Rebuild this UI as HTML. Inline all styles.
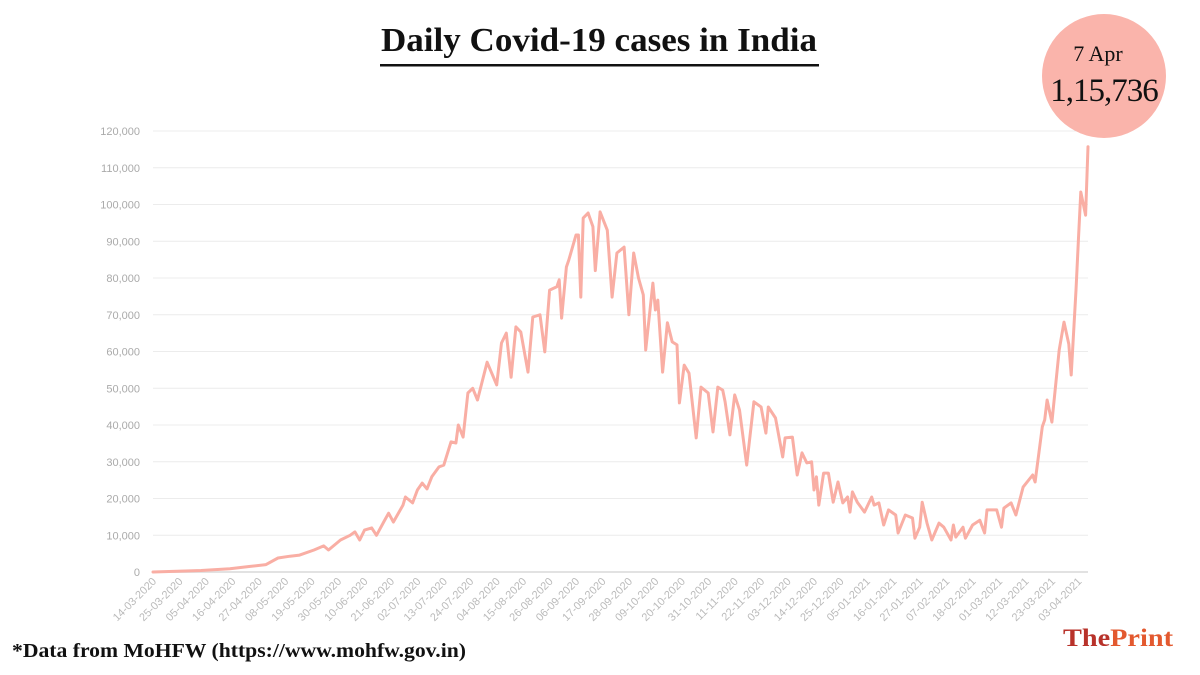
<!DOCTYPE html>
<html><head><meta charset="utf-8"><style>
html,body{margin:0;padding:0;background:#fff;width:1200px;height:675px;overflow:hidden}
svg{display:block}
</style></head><body>
<svg id="chart" width="1200" height="675" xmlns="http://www.w3.org/2000/svg">
<text x="381" y="51" textLength="436" lengthAdjust="spacingAndGlyphs" font-family="Liberation Serif, serif" font-weight="600" font-size="34" fill="#111">Daily Covid-19 cases in India</text>
<rect x="380" y="64" width="439" height="2.5" fill="#111"/>
<g id="grid"></g>
<g id="yaxis"></g>
<g id="xaxis"></g>
<path id="line" fill="none" stroke="#f9aea4" stroke-width="3" stroke-linejoin="round" stroke-linecap="round"/>
<circle cx="1104" cy="76" r="62" fill="#fab4ab"/>
<text x="1098" y="61" text-anchor="middle" font-family="Liberation Serif, serif" font-size="22" fill="#111">7 Apr</text>
<text x="1104" y="101" text-anchor="middle" font-family="Liberation Serif, serif" font-size="33" fill="#111" letter-spacing="-1">1,15,736</text>
<text x="12" y="657" textLength="454" lengthAdjust="spacingAndGlyphs" font-family="Liberation Serif, serif" font-size="20" font-weight="bold" fill="#111">*Data from MoHFW (https://www.mohfw.gov.in)</text>
<text x="1063" y="646" textLength="110" lengthAdjust="spacingAndGlyphs" font-family="Liberation Serif, serif" font-size="25" font-weight="bold" fill="#e3592f"><tspan fill="#b8322a">The</tspan>Print</text>
</svg>
<script>
const days=[0,20,32,40,47,52,57,61,67,71,73,78,82,84,86,88,91,93,96,98,100,104,105,108,110,112,114,116,119,121,124,126,127,129,131,133,135,139,143,145,147,149,151,153,156,158,161,163,165,168,169,170,172,173,176,177,178,179,181,183,184,186,189,191,193,196,198,200,202,204,205,208,209,210,212,214,216,218,219,221,223,226,228,231,233,235,237,238,240,242,244,247,250,253,255,256,259,262,263,266,268,270,272,274,275,276,277,279,281,283,285,287,289,290,291,293,296,299,300,302,304,306,309,310,313,316,317,319,320,322,324,327,329,332,333,334,337,338,341,344,346,347,351,353,354,357,359,362,366,367,370,371,372,374,377,379,381,382,384,385,386,388,389];
const cases=[0,400,900,1500,2000,3800,4300,4600,6000,7100,6000,8700,10000,10900,8700,11400,12000,10000,13600,16000,13600,18200,20400,18800,22300,24200,22600,25900,28600,29100,35400,35100,40000,36700,48700,50000,46800,57100,50900,62300,65000,53000,66700,65300,54400,69400,70000,59900,76700,77600,79500,69100,83000,84900,91700,91700,74800,96300,97700,94000,82000,98000,93000,74800,86800,88400,70000,86800,80000,75400,60400,78600,71300,74000,54400,67800,62600,61800,46000,56300,54100,36500,50300,48700,38100,50300,49500,46300,37300,48200,44100,29100,46300,44900,37800,44900,41900,31300,36500,36700,26400,32400,29700,30000,22300,25900,18200,26900,26900,19000,24500,18800,20400,16300,21800,19000,16300,20400,18200,18800,12800,16900,15500,10600,15500,14700,9200,12200,19000,13300,8700,13300,12200,8700,12800,9500,12200,9200,12800,14100,10600,16900,16900,12200,17400,18800,15500,23100,26400,24500,39500,41400,46800,40800,60400,68000,62000,53600,76700,90300,103400,97100,115736];
const yTicks=[0,10000,20000,30000,40000,50000,60000,70000,80000,90000,100000,110000,120000];
const tickStep=11;
const NS="http://www.w3.org/2000/svg";
const X0=153,X1=1088,DMAX=389,Y0=572,Y1=131,VMAX=120000;
const xs=d=>X0+(X1-X0)*d/DMAX;
const ys=v=>Y0-(Y0-Y1)*v/VMAX;
const fmt=n=>n.toLocaleString('en-US');
const grid=document.getElementById('grid'),yax=document.getElementById('yaxis'),xax=document.getElementById('xaxis');
yTicks.forEach(t=>{
  const l=document.createElementNS(NS,'line');
  
  
  l.setAttribute('x1',X0);l.setAttribute('x2',X1);l.setAttribute('y1',ys(t));l.setAttribute('y2',ys(t));
  l.setAttribute('stroke',t===0?'#e2e2e2':'#ececec');l.setAttribute('stroke-width',t===0?2:1);
  grid.appendChild(l);
  const tx=document.createElementNS(NS,'text');
  
  
  tx.setAttribute('x',140);tx.setAttribute('y',ys(t)+4);tx.setAttribute('text-anchor','end');
  tx.setAttribute('font-family','Liberation Sans, sans-serif');tx.setAttribute('font-size','11');tx.setAttribute('fill','#aaa');
  tx.textContent=fmt(t);yax.appendChild(tx);
});
const start=Date.UTC(2020,2,14);
for(let d=0;d<=DMAX-3;d+=tickStep){
  const dt=new Date(start+d*86400000);
  const s=String(dt.getUTCDate()).padStart(2,'0')+'-'+String(dt.getUTCMonth()+1).padStart(2,'0')+'-'+dt.getUTCFullYear();
  const tx=document.createElementNS(NS,'text');
  
  
  const x=xs(d)+4,y=582;
  tx.setAttribute('x',x);tx.setAttribute('y',y);tx.setAttribute('text-anchor','end');
  tx.setAttribute('transform','rotate(-45 '+x+' '+y+')');
  tx.setAttribute('font-family','Liberation Sans, sans-serif');tx.setAttribute('font-size','11');tx.setAttribute('fill','#bbb');
  tx.textContent=s;xax.appendChild(tx);
}
document.getElementById('line').setAttribute('d',days.map((d,i)=>(i?'L':'M')+xs(d).toFixed(1)+' '+ys(cases[i]).toFixed(1)).join(' '));
</script>
</body></html>
